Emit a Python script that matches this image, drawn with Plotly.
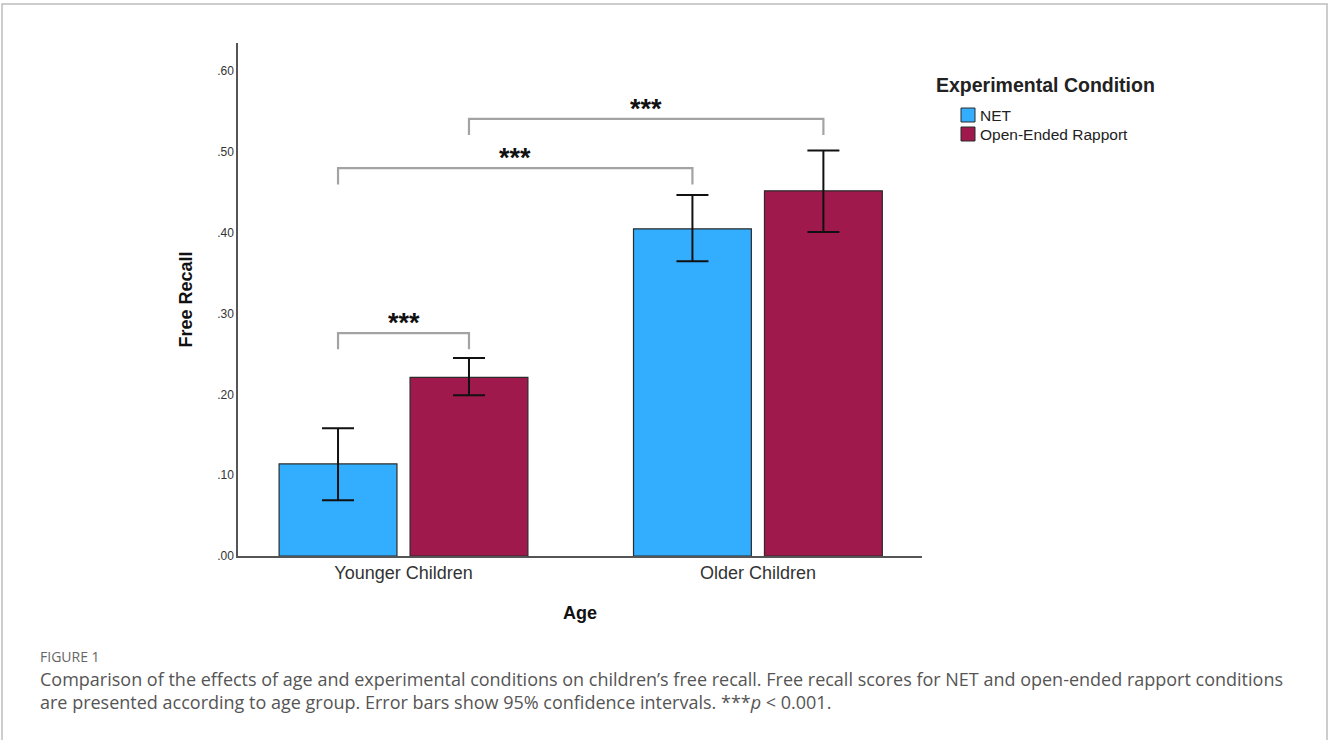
import plotly.graph_objects as go

# ---- data ----
groups = ["Younger Children", "Older Children"]
series_names = ["NET", "Open-Ended Rapport"]
legend_title = "Experimental Condition"
net_means = [0.114, 0.405]
net_ci_low = [0.069, 0.365]
net_ci_high = [0.158, 0.447]
orr_means = [0.221, 0.452]
orr_ci_low = [0.199, 0.401]
orr_ci_high = [0.245, 0.502]
y_tick_vals = [0.0, 0.1, 0.2, 0.3, 0.4, 0.5, 0.6]
y_tick_text = [".00", ".10", ".20", ".30", ".40", ".50", ".60"]
# significance comparisons: (group a, series a, group b, series b, bracket height, label)
comparisons = [
    (0, 0, 0, 1, 0.276, "***"),
    (0, 0, 1, 0, 0.480, "***"),
    (0, 1, 1, 1, 0.541, "***"),
]

# ---- layout constants ----
W, H = 1328, 740
L, R, T, B = 238, 922, 43, 556
BARGAP = 0.261
BARGROUPGAP = 0.1
colors = ["#33AEFF", "#A0194C"]

def px_x(p):
    return (p - L) / (R - L)

def px_y(p):
    return (B - p) / (B - T)

fig = go.Figure()
for name, means, lo, hi, col in [
    (series_names[0], net_means, net_ci_low, net_ci_high, colors[0]),
    (series_names[1], orr_means, orr_ci_low, orr_ci_high, colors[1]),
]:
    fig.add_trace(go.Bar(
        x=groups, y=means, name=name, showlegend=False,
        marker=dict(color=col, line=dict(color="#2b2b2b", width=1.2)),
        error_y=dict(type="data", symmetric=False,
                     array=[h - m for h, m in zip(hi, means)],
                     arrayminus=[m - l for m, l in zip(means, lo)],
                     color="#111111", thickness=2, width=16),
    ))

slot = (1 - BARGAP) / 2
offsets = [-slot / 2, slot / 2]
shapes = []
annotations = []
drop = 0.02
for ga, sa, gb, sb, yb, lab in comparisons:
    xa = ga + offsets[sa]
    xb = gb + offsets[sb]
    shapes.append(dict(
        type="path", xref="x", yref="y",
        path=f"M {xa},{yb - drop} L {xa},{yb} L {xb},{yb} L {xb},{yb - drop}",
        line=dict(color="#a3a3a3", width=2.2),
    ))
    annotations.append(dict(
        x=(xa + xb) / 2, y=yb, xref="x", yref="y", text="<b>" + lab + "</b>",
        showarrow=False, yanchor="bottom", yshift=-7,
        font=dict(family="Arial", size=27, color="#111"),
    ))

# outer border (bottom edge runs off the page)
shapes.append(dict(type="rect", xref="paper", yref="paper",
                   x0=px_x(2), x1=px_x(1327), y0=px_y(760), y1=px_y(4),
                   line=dict(color="#bdbdbd", width=1.5)))

# legend (drawn by hand to match the swatch style)
annotations.append(dict(
    x=px_x(934), y=px_y(85), xref="paper", yref="paper", xanchor="left", yanchor="middle",
    showarrow=False, text="<b>" + legend_title + "</b>",
    font=dict(family="Arial", size=19.5, color="#222")))
for i, (nm, col) in enumerate(zip(series_names, colors)):
    yc = 115 + 19 * i
    shapes.append(dict(type="rect", xref="paper", yref="paper",
                       x0=px_x(961), x1=px_x(975), y0=px_y(yc + 7), y1=px_y(yc - 7),
                       fillcolor=col, line=dict(color="#2b2b2b", width=1)))
    annotations.append(dict(
        x=px_x(978), y=px_y(yc), xref="paper", yref="paper", xanchor="left", yanchor="middle",
        showarrow=False, text=nm, font=dict(family="Arial", size=15.5, color="#222")))

# caption
annotations += [
    dict(x=px_x(38), y=px_y(656), xref="paper", yref="paper", xanchor="left",
         yanchor="middle", showarrow=False, text="FIGURE 1",
         font=dict(family="Open Sans", size=14, color="#666")),
    dict(x=px_x(38), y=px_y(679), xref="paper", yref="paper", xanchor="left",
         yanchor="middle", showarrow=False,
         text="Comparison of the effects of age and experimental conditions on children’s free recall. "
              "Free recall scores for NET and open-ended rapport conditions",
         font=dict(family="Open Sans", size=18, color="#555")),
    dict(x=px_x(38), y=px_y(702), xref="paper", yref="paper", xanchor="left",
         yanchor="middle", showarrow=False,
         text="are presented according to age group. Error bars show 95% confidence intervals. ***<i>p</i> &lt; 0.001.",
         font=dict(family="Open Sans", size=18, color="#555")),
]

fig.update_layout(
    width=W, height=H,
    margin=dict(l=L, r=W - R, t=T, b=H - B, pad=0),
    paper_bgcolor="white", plot_bgcolor="white",
    barmode="group", bargap=BARGAP, bargroupgap=BARGROUPGAP,
    font=dict(family="Arial", color="#222"),
    shapes=shapes, annotations=annotations,
    showlegend=False,
)
fig.update_xaxes(
    range=[-0.467, 1.463], showline=True, linecolor="#555", linewidth=1.5,
    showgrid=False, ticks="", tickfont=dict(family="Arial", size=18, color="#333"),
    title=dict(text="<b>Age</b>", font=dict(family="Arial", size=18, color="#111"), standoff=24),
    fixedrange=True,
)
fig.update_yaxes(
    range=[0, 0.635], showline=True, linecolor="#555", linewidth=1.5,
    showgrid=False, zeroline=False, ticks="", tickvals=y_tick_vals, ticktext=y_tick_text,
    tickfont=dict(family="Arial", size=12, color="#333"),
    title=dict(text="<b>Free Recall</b>", font=dict(family="Arial", size=18, color="#111"), standoff=20),
    fixedrange=True,
)

fig.write_html("out.html", config={"displayModeBar": False},
               post_script="document.body.style.margin='0';")
